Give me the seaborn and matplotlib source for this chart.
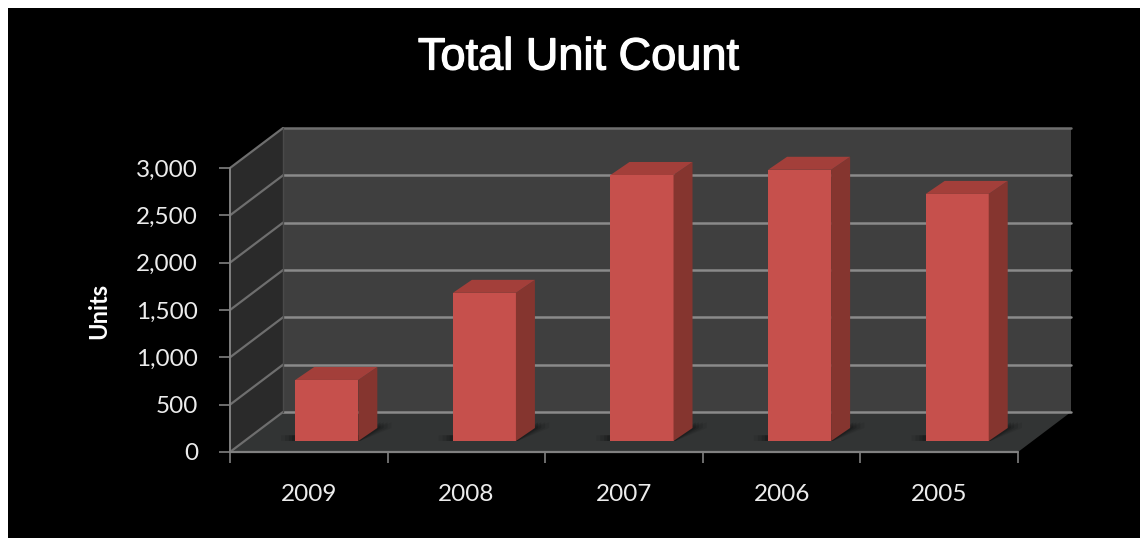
import matplotlib
matplotlib.use("Agg")
import matplotlib.pyplot as plt
import matplotlib.patheffects as pe
from matplotlib.patches import Polygon, Rectangle
from matplotlib.transforms import Affine2D
from matplotlib.ticker import StrMethodFormatter
import pandas as pd
import seaborn as sns

years = ['2009', '2008', '2007', '2006', '2005']
units = [645, 1565, 2810, 2865, 2610]
y_ticks = [0, 500, 1000, 1500, 2000, 2500, 3000]

W, H = 1140, 538
# depth of the 3d box and of the bars, in pixels
WALL_DX, WALL_DY = 53, 40
BAR_DX, BAR_DY = 18, 11
SIDE_DX, SIDE_DY = 19, 13
BAR_WIDTH = 0.4

sns.set_theme(style='dark')
plt.rcParams['font.family'] = ['Lato', 'Open Sans', 'DejaVu Sans']

df = pd.DataFrame({'year': years, 'units': units})

fig = plt.figure(figsize=(W / 100, H / 100), dpi=100, facecolor='white')
fig.add_artist(Rectangle((8 / W, 0), 1 - 8 / W, 1 - 8 / H, transform=fig.transFigure,
                         facecolor='black', edgecolor='none', zorder=-5))
ax = fig.add_axes([230 / W, 1 - 452 / H, 788 / W, 284 / H])
ax.patch.set_visible(False)


def shift(dx, dy):
    return ax.transData + Affine2D().translate(dx, dy)


sns.barplot(data=df, x='year', y='units', ax=ax, color='#c6504c', saturation=1, width=BAR_WIDTH,
            edgecolor='none', linewidth=0, zorder=5)
ax.set_xlim(-0.5, 4.5)
ax.set_ylim(0, 3000)
x0, x1 = ax.get_xlim()
y0, y1 = ax.get_ylim()

# walls and floor
back = shift(WALL_DX, WALL_DY)
ax.add_patch(Rectangle((x0, y0), x1 - x0, y1 - y0, transform=back, facecolor='#3f3f3f', edgecolor='none', clip_on=False, zorder=1))
px_to_x = (x1 - x0) / 788
px_to_y = (y1 - y0) / 284
d_x, d_y = WALL_DX * px_to_x, WALL_DY * px_to_y
ax.add_patch(Polygon([(x0, y0), (x0, y1), (x0 + d_x, y1 + d_y), (x0 + d_x, y0 + d_y)],
                     facecolor='#2a2a2a', edgecolor='none', clip_on=False, zorder=1))
ax.add_patch(Polygon([(x0, y0), (x1, y0), (x1 + d_x, y0 + d_y), (x0 + d_x, y0 + d_y)],
                     facecolor='#323434', edgecolor='none', clip_on=False, zorder=1))

# gridlines
for t in y_ticks:
    ax.plot([x0, x1], [t, t], transform=back, color='#8a8a8a' if t < 3000 else '#6e6e6e', lw=1.8, clip_on=False, zorder=2)
    ax.plot([x0, x0 + d_x], [t, t + d_y], color='#6e6e6e', lw=1.6, clip_on=False, zorder=2)
ax.plot([x0, x1], [y0, y0], color='#808080', lw=1.6, clip_on=False, zorder=3)
ax.plot([x0, x0], [y0, y1], color='#808080', lw=1.4, clip_on=False, zorder=3)
ax.plot([x0 + d_x, x0 + d_x], [y0 + d_y, y1 + d_y], color='#4a4a4a', lw=1, clip_on=False, zorder=2)

# bars: seaborn draws the front face, top and side come from the same rectangle
s_x, s_y = SIDE_DX * px_to_x, SIDE_DY * px_to_y
bar_shift = shift(BAR_DX, BAR_DY)
for bar in ax.patches[:len(years)]:
    l, r, h = bar.get_x(), bar.get_x() + bar.get_width(), bar.get_height()
    bar.set_transform(bar_shift)
    bar.set_clip_on(False)
    # soft shadow on the floor
    for grow, alpha in [(0.09, 0.07), (0.065, 0.1), (0.04, 0.13), (0.02, 0.16)]:
        ax.add_patch(Polygon([(l - grow, 0), (r + 0.01, 0), (r + s_x + grow, s_y), (r + s_x + grow, s_y + 60), (r, 60), (l - grow, 60)],
                             transform=bar_shift, facecolor='black', alpha=alpha, edgecolor='none', clip_on=False, zorder=3))
    ax.add_patch(Polygon([(r, 0), (r + s_x, s_y), (r + s_x, h + s_y), (r, h)], transform=bar_shift,
                         facecolor='#85352f', edgecolor='none', clip_on=False, zorder=5))
    ax.add_patch(Polygon([(l, h), (r, h), (r + s_x, h + s_y), (l + s_x, h + s_y)], transform=bar_shift,
                         facecolor='#a33f3a', edgecolor='none', clip_on=False, zorder=5))

# axes
for sp in ax.spines.values():
    sp.set_visible(False)
ax.set_yticks(y_ticks)
ax.yaxis.set_major_formatter(StrMethodFormatter('{x:,.0f}'))
ax.set_xticks([i + 0.5 for i in range(-1, 5)], minor=True)
ax.tick_params(axis='x', which='minor', length=8, width=1.2, color='#808080', bottom=True)
ax.tick_params(axis='x', which='major', length=0, pad=23, labelsize=17.5, labelcolor='#ececec')
ax.tick_params(axis='y', length=8, width=1.2, color='#808080', left=True, pad=15, labelsize=17.5, labelcolor='#ececec')
ax.set_xlabel('')
ax.set_ylabel('')
ax.grid(False)
fig.text(99 / W, 1 - 311 / H, 'Units', rotation=90, ha='center', va='center', color='white', fontsize=17, fontweight='bold')
title = fig.text(578 / W, 1 - 58 / H, 'Total Unit Count', ha='center', va='center', color='white', fontsize=32.5,
                 family=['Liberation Sans', 'DejaVu Sans'])
title.set_path_effects([pe.withStroke(linewidth=0.9, foreground='white')])

fig.savefig('out.png', dpi=100, facecolor='white')
